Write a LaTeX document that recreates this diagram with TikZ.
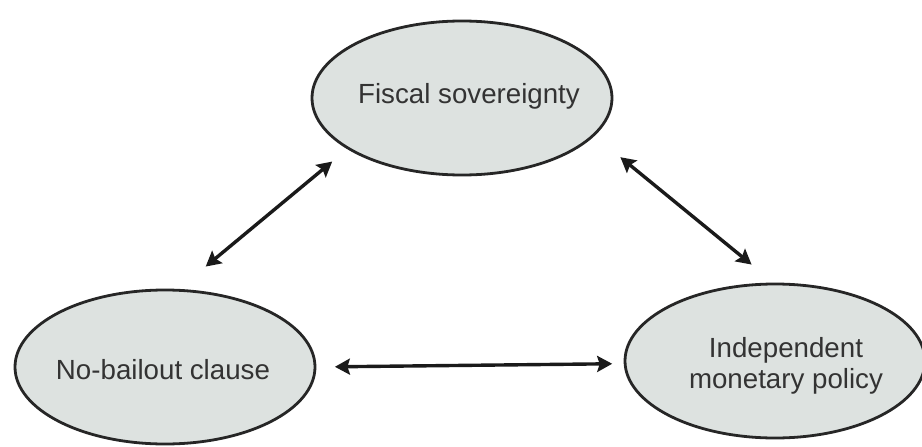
\documentclass[tikz,border=0pt]{standalone}
\usepackage{fontspec}
\setmainfont{Liberation Sans}
\usetikzlibrary{shapes.geometric,arrows.meta}
\definecolor{ovalfill}{HTML}{DDE2E0}
\definecolor{ovalline}{HTML}{262626}
\definecolor{txt}{HTML}{333333}
\definecolor{arr}{HTML}{1A1A1A}
\begin{document}
\begin{tikzpicture}[x=1pt,y=-1pt,
  oval/.style={ellipse,draw=ovalline,fill=ovalfill,line width=2.8pt,
    minimum width=300pt,minimum height=154pt,inner sep=0pt},
  ovaltext/.style={text=txt,font=\fontsize{27.7}{30.5}\selectfont,align=center,inner sep=0pt},
  dbl/.style={draw=arr,line width=3.4pt,
    {Stealth[length=15pt,width=16pt,inset=2.5pt]}-{Stealth[length=15pt,width=16pt,inset=2.5pt]}}]
  \useasboundingbox (0,0) rectangle (922,447);
  % the three policy goals
  \node[oval,label={[ovaltext,name=fst,xshift=7pt,yshift=2pt]center:Fiscal sovereignty}] (fs) at (462,98) {};
  \node[oval,label={[ovaltext,name=nbt,xshift=-2pt,yshift=-3pt]center:No-bailout clause}] (nb) at (165,367) {};
  \node[oval,label={[ovaltext,name=impt,xshift=11pt,yshift=-5pt]center:Independent\\monetary policy}] (imp) at (775,361) {};
  % mutual trade-offs
  \draw[dbl,shorten <=19.5pt,shorten >=35pt] (fs.204) -- (nb.80);
  \draw[dbl,shorten <=33.5pt,shorten >=28.5pt] (fs.344) -- (imp.91.4);
  \draw[dbl,shorten <=18.5pt,shorten >=11.5pt] (nb.0.8) -- (imp.181.5);
\end{tikzpicture}
\end{document}
